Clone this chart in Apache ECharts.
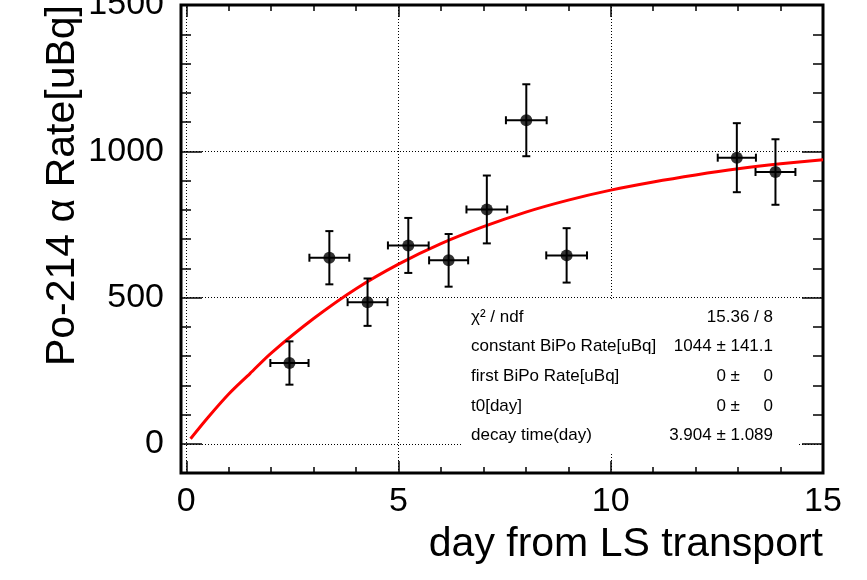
<!DOCTYPE html>
<html>
<head>
<meta charset="utf-8">
<script src="https://cdn.jsdelivr.net/npm/echarts@6/dist/echarts.min.js"></script>
<style>
  html, body { margin: 0; padding: 0; background: #fff; }
  #chart { width: 867px; height: 580px; }
</style>
</head>
<body>
<div id="chart"></div>
<script>
// measured points (day, rate) with errors
const days = [2.43, 3.37, 4.27, 5.23, 6.18, 7.08, 8.01, 8.96, 12.97, 13.88];
const dayErr = [0.45, 0.47, 0.47, 0.48, 0.46, 0.48, 0.48, 0.48, 0.45, 0.47];
const rates = [276, 636, 484, 678, 627, 801, 1106, 644, 978, 929];
const rateErr = [74, 91, 81, 94, 90, 116, 123, 93, 118, 112];

// fit curve
const fitDays = [0.1, 0.5, 1, 1.5, 2, 3, 4, 5, 6, 7, 8, 9, 10, 11, 12, 13, 14, 15];
const fitRates = [17, 88, 170, 240, 310, 428, 530, 614, 684, 742, 792, 833, 867, 895, 919, 940, 957, 971];

// axis ticks
const xTicks = [0, 5, 10, 15];
const xMinorTicks = [1, 2, 3, 4, 6, 7, 8, 9, 11, 12, 13, 14];
const yTicks = [0, 500, 1000, 1500];
const yMinorTicks = [100, 200, 300, 400, 600, 700, 800, 900, 1100, 1200, 1300, 1400];

// fit box
const statNames = ['χ² / ndf', 'constant BiPo Rate[uBq]', 'first BiPo Rate[uBq]', 't0[day]', 'decay time(day)'];
const statValues = ['15.36 / 8', '1044 ± 141.1', '0 ±     0', '0 ±     0', '3.904 ± 1.089'];

const FONT = '"Liberation Sans", Arial, Helvetica, sans-serif';
const X_MIN = -0.125, X_MAX = 15, Y_MIN = -100, Y_MAX = 1500;

function axis(kind, position, ticks, len, withLabels) {
  const a = {
    type: 'value',
    position: position,
    min: kind === 'x' ? X_MIN : Y_MIN,
    max: kind === 'x' ? X_MAX : Y_MAX,
    axisLine: { show: false, onZero: false },
    splitLine: { show: false },
    axisTick: {
      show: true,
      inside: true,
      length: len,
      customValues: ticks,
      lineStyle: { color: '#000', width: 1.5 }
    },
    axisLabel: { show: false }
  };
  if (withLabels) {
    a.axisLabel = {
      show: true,
      customValues: ticks,
      formatter: v => String(v),
      color: '#000',
      fontFamily: FONT,
      fontSize: 34,
      margin: kind === 'x' ? 12 : 17
    };
  }
  return a;
}

const errData = days.map((d, i) => [d, rates[i], dayErr[i], rateErr[i]]);
const gridMarks = xTicks.map(v => ({ xAxis: v })).concat(yTicks.map(v => ({ yAxis: v })));

const chart = echarts.init(document.getElementById('chart'));
chart.setOption({
  animation: false,
  backgroundColor: '#fff',
  grid: {
    left: 181, right: 44, top: 5, bottom: 107,
    outerBoundsMode: 'none',
    containLabel: false,
    show: true, borderColor: '#000', borderWidth: 3,
    backgroundColor: 'transparent'
  },
  xAxis: [
    axis('x', 'bottom', xTicks, 12, true),
    axis('x', 'bottom', xMinorTicks, 6, false),
    axis('x', 'top', xTicks, 12, false),
    axis('x', 'top', xMinorTicks, 6, false)
  ],
  yAxis: [
    axis('y', 'left', yTicks, 21, true),
    axis('y', 'left', yMinorTicks, 10, false),
    axis('y', 'right', yTicks, 21, false),
    axis('y', 'right', yMinorTicks, 10, false)
  ],
  series: [
    {
      name: 'fit',
      type: 'line',
      data: fitDays.map((d, i) => [d, fitRates[i]]),
      smooth: 0.3,
      showSymbol: false,
      lineStyle: { color: '#ff0000', width: 3 },
      z: 3,
      markLine: {
        silent: true,
        symbol: 'none',
        label: { show: false },
        lineStyle: { color: '#000', width: 1, type: [1, 2] },
        data: gridMarks,
        z: 1
      }
    },
    {
      name: 'errors',
      type: 'custom',
      data: errData,
      z: 4,
      renderItem: function (params, api) {
        const x = api.value(0), y = api.value(1), dx = api.value(2), dy = api.value(3);
        const l = api.coord([x - dx, y]), r = api.coord([x + dx, y]);
        const t = api.coord([x, y + dy]), b = api.coord([x, y - dy]);
        const st = { stroke: '#000', lineWidth: 2 };
        const c = 4;
        return {
          type: 'group',
          children: [
            { type: 'line', shape: { x1: l[0], y1: l[1], x2: r[0], y2: r[1] }, style: st },
            { type: 'line', shape: { x1: t[0], y1: t[1], x2: b[0], y2: b[1] }, style: st },
            { type: 'line', shape: { x1: l[0], y1: l[1] - c, x2: l[0], y2: l[1] + c }, style: st },
            { type: 'line', shape: { x1: r[0], y1: r[1] - c, x2: r[0], y2: r[1] + c }, style: st },
            { type: 'line', shape: { x1: t[0] - c, y1: t[1], x2: t[0] + c, y2: t[1] }, style: st },
            { type: 'line', shape: { x1: b[0] - c, y1: b[1], x2: b[0] + c, y2: b[1] }, style: st }
          ]
        };
      }
    },
    {
      name: 'data',
      type: 'scatter',
      data: days.map((d, i) => [d, rates[i]]),
      symbol: 'circle',
      symbolSize: 12,
      itemStyle: { color: '#000' },
      z: 5
    }
  ],
  graphic: [
    {
      type: 'text', x: 63, y: 5, rotation: Math.PI / 2,
      style: {
        text: 'Po-214 α Rate[uBq]', fill: '#000', font: '41px ' + FONT,
        align: 'right', verticalAlign: 'middle'
      }
    },
    {
      type: 'text', x: 823, y: 545,
      style: {
        text: 'day from LS transport', fill: '#000', font: '41px ' + FONT,
        align: 'right', verticalAlign: 'middle'
      }
    },
    {
      type: 'rect', z: 100,
      shape: { x: 462, y: 299, width: 335, height: 154 },
      style: { fill: '#fff' }
    }
  ].concat(statNames.map((s, i) => ({
    type: 'text', z: 101, x: 471, y: 317 + i * 29.7,
    style: { text: s, fill: '#000', font: '17px ' + FONT, verticalAlign: 'middle' }
  }))).concat(statValues.map((s, i) => ({
    type: 'text', z: 101, x: 773, y: 317 + i * 29.7,
    style: { text: s, fill: '#000', font: '17px ' + FONT, align: 'right', verticalAlign: 'middle' }
  })))
});
</script>
</body>
</html>
